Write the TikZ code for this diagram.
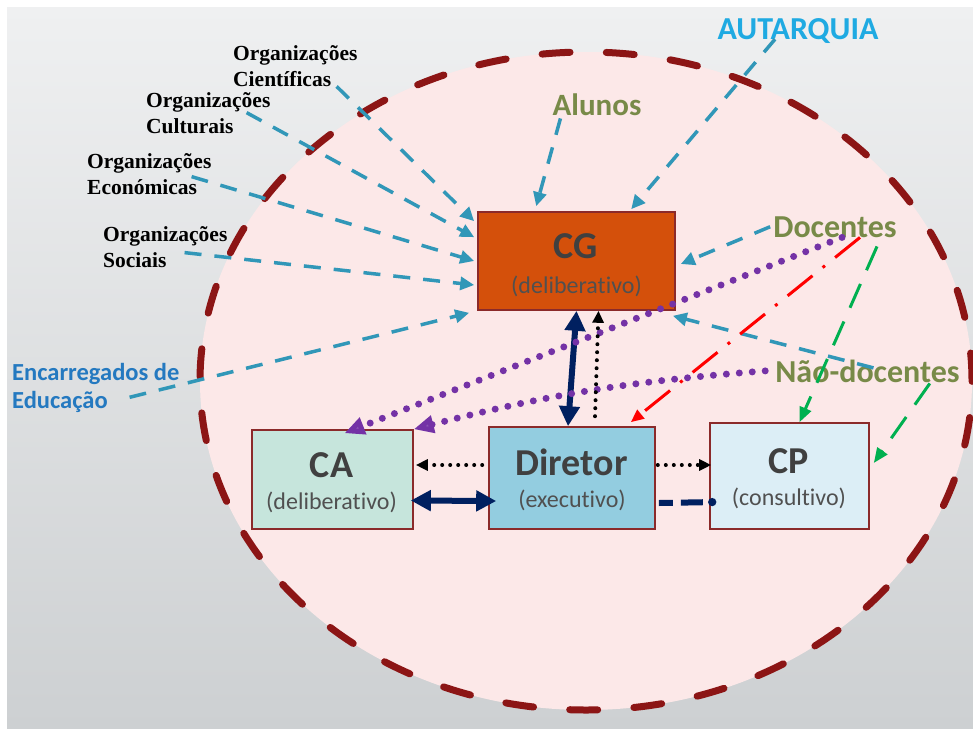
\documentclass[tikz,border=0pt]{standalone}
\usepackage{fontspec}
\setmainfont{Carlito}[Ligatures=NoCommon]
\newfontfamily\orgfont{Liberation Serif}[BoldFont={Liberation Serif Bold}]
\usetikzlibrary{arrows.meta}

\definecolor{bgTop}{HTML}{EFF0F1}
\definecolor{bgBot}{HTML}{CDD0D2}
\definecolor{ringFill}{HTML}{FCE8E8}
\definecolor{ringLine}{HTML}{8C1515}
\definecolor{boxLine}{HTML}{8B2A2A}
\definecolor{cgFill}{HTML}{D4500B}
\definecolor{caFill}{HTML}{C6E5DC}
\definecolor{dirFill}{HTML}{93CDE0}
\definecolor{cpFill}{HTML}{DCEEF6}
\definecolor{boxText}{HTML}{404040}
\definecolor{subText}{HTML}{505050}
\definecolor{linkBlue}{HTML}{3197B8}
\definecolor{autBlue}{HTML}{1FAAE2}
\definecolor{encBlue}{HTML}{2479C0}
\definecolor{olive}{HTML}{788A48}
\definecolor{purp}{HTML}{7432A6}
\definecolor{navy}{HTML}{002060}
\definecolor{grn}{HTML}{00B050}

\begin{document}
\begin{tikzpicture}[x=1pt,y=-1pt,
  box/.style={draw=boxLine, line width=1.6pt, inner sep=0pt},
  ttl/.style={anchor=base, inner sep=0pt, text=boxText, font=\bfseries\fontsize{38}{42}\selectfont},
  sub/.style={anchor=base, inner sep=0pt, text=subText, font=\fontsize{24}{28}\selectfont},
  orglbl/.style={anchor=base west, align=left, inner sep=0pt, text=black, font=\orgfont\bfseries\fontsize{21.5}{26}\selectfont},
  member/.style={anchor=base, inner sep=0pt, text=olive, font=\bfseries\fontsize{32}{36}\selectfont},
  link/.style={draw=linkBlue, line width=3.5pt, dash pattern=on 17pt off 13pt, -{Triangle[length=14pt,width=13pt]}},
  purpdots/.style={draw=purp, line width=7pt, line cap=round, dash pattern=on 0pt off 13pt, -{Triangle[length=20pt,width=17pt,fill=purp!85!white]}},
  blackdots/.style={draw=black, line width=4pt, line cap=round, dash pattern=on 0pt off 8pt, -{Triangle[length=12pt,width=11pt]}},
  heavy/.style={draw=navy, line width=6pt, {Triangle[length=20pt,width=20pt]}-{Triangle[length=20pt,width=20pt]}},
  reddash/.style={draw=red, line width=3pt, dash pattern=on 32pt off 13pt on 3pt off 13pt, -{Triangle[length=13pt,width=11pt]}},
  grndash/.style={draw=grn, line width=3pt, dash pattern=on 26pt off 15pt, -{Triangle[length=15pt,width=12pt]}},
  navydash/.style={draw=navy, line width=6pt, dash pattern=on 14pt off 8pt on 22pt off 8pt, -{Circle[length=8pt]}}
]
\useasboundingbox (0,0) rectangle (973,731);
\fill[white] (0,0) rectangle (973,731);
\shade[top color=bgTop, bottom color=bgBot] (7,7) rectangle (973,728);

% the school as a whole
\draw[fill=ringFill, draw=ringLine, line width=7pt, line cap=round,
      dash pattern=on 28pt off 36.28pt]
  (586,381) ellipse [x radius=386pt, y radius=329pt];

% organs
\node[box, fill=cgFill, minimum width=197pt, minimum height=98pt] (cg) at (576.5,261) {};
\node[ttl] (cgT) at (575.5,258) {CG};
\node[sub] (cgS) at (576.5,293) {(deliberativo)};

\node[box, fill=caFill, minimum width=161pt, minimum height=99pt] (ca) at (332.5,479.5) {};
\node[ttl] (caT) at (331.5,477) {CA};
\node[sub] (caS) at (331.5,509) {(deliberativo)};

\node[box, fill=dirFill, minimum width=166pt, minimum height=102pt] (dir) at (572,478) {};
\node[ttl] (dirT) at (571.5,475) {Diretor};
\node[sub] (dirS) at (572,507) {(executivo)};

\node[box, fill=cpFill, minimum width=159pt, minimum height=106pt] (cp) at (789.5,476) {};
\node[ttl] (cpT) at (789,473) {CP};
\node[sub] (cpS) at (789,505) {(consultivo)};

% outside bodies (anchored on the baseline of their last line)
\node[orglbl] (sci) at (233,86) {Organizações\\Científicas};
\node[orglbl] (cul) at (146,133) {Organizações\\Culturais};
\node[orglbl] (eco) at (87,194) {Organizações\\Económicas};
\node[orglbl] (soc) at (103,267) {Organizações\\Sociais};
\node[anchor=base west, align=left, inner sep=0pt, text=encBlue,
      font=\bfseries\fontsize{24.5}{28}\selectfont] (enc) at (12,408) {Encarregados de\\Educação};
\node[anchor=base, inner sep=0pt, text=autBlue, font=\bfseries\fontsize{32}{36}\selectfont] (aut) at (798,39) {AUTARQUIA};

% members of the community
\node[member, font=\bfseries\fontsize{31}{36}\selectfont] (alu) at (597,115) {Alunos};
\node[member] (doc) at (835,237) {Docentes};
\node[member] (nd) at (867.5,382) {Não-docentes};

% representation in the general council
\draw[link] ([xshift=-21pt]sci.south east) -- ([shift={(-3pt,-10pt)}]cg.north west);
\draw[link] ([xshift=-24pt]cul.east) -- ([shift={(-3pt,-26pt)}]cg.north west);
\draw[link] ([shift={(-20pt,-3pt)}]eco.east) -- ([xshift=-3pt]cg.west);
\draw[link] ([shift={(-43pt,-6pt)}]soc.east) -- ([shift={(-3pt,-24pt)}]cg.west);
\draw[link] ([shift={(-50pt,15pt)}]enc.south east) -- ([shift={(-8pt,-2pt)}]cg.south west);
\draw[link] ([shift={(8pt,-3pt)}]alu.south west) -- ([shift={(59pt,5pt)}]cg.north west);
\draw[link] ([shift={(-23pt,4pt)}]aut.south) -- ([shift={(154pt,2pt)}]cg.north west);
\draw[link] ([xshift=-3pt]doc.west) -- ([shift={(5pt,-3pt)}]cg.east);
\draw[link] ([shift={(6pt,3pt)}]nd.center) -- ([shift={(-3pt,-5pt)}]cg.south east);

% relations between organs
\draw[heavy] ([xshift=-4pt]dir.north) -- (cg.south);
\draw[heavy] ([shift={(-3pt,-21pt)}]ca.east) -- ([shift={(8pt,-23pt)}]dir.west);

% staff in the pedagogical council and administrative council
\draw[purpdots] ([xshift=7pt]doc.south) -- ([shift={(12pt,-4pt)}]ca.north);
\draw[purpdots] ([xshift=-10pt]nd.west) to[bend right=5] (ca.north east);
\draw[reddash] ([xshift=25pt]doc.south) -- ([shift={(-25pt,4pt)}]dir.north east);
\draw[grndash] ([shift={(42pt,-9pt)}]doc.south) -- ([xshift=10pt]cp.north);
\draw[grndash] ([shift={(-30pt,-1pt)}]nd.south east) -- ([shift={(4pt,13pt)}]cp.east);

% director's duties
\draw[blackdots] ([shift={(23pt,10pt)}]dir.north) -- ([xshift=22pt]cg.south);
\draw[blackdots] ([shift={(-6pt,13pt)}]dir.west) -- ([shift={(2pt,14.5pt)}]ca.east);
\draw[blackdots] ([shift={(2pt,13pt)}]dir.east) -- ([shift={(2pt,11pt)}]cp.west);
\draw[navydash] ([shift={(3pt,-25pt)}]dir.east) -- ([shift={(7pt,-26pt)}]cp.west);
\end{tikzpicture}
\end{document}
